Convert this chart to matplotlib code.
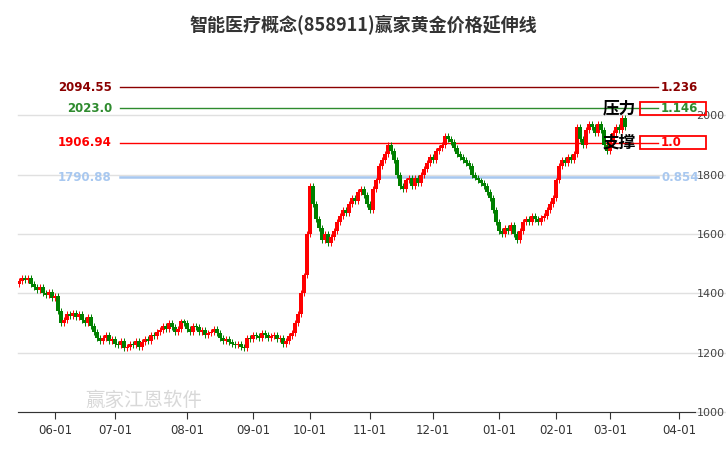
import matplotlib
matplotlib.use("Agg")
import matplotlib.pyplot as plt
from matplotlib.patches import Rectangle

plt.rcParams['font.family'] = ['Noto Sans CJK SC', 'DejaVu Sans']

closes = [1440,1450,1445,1450,
 1430,1420,1410,1420,1400,1395,1405,1385,1390,
 1340,1300,1310,1330,
 1325,1335,1320,1330,1310,1300,1320,1290,1270,1250,
 1240,1250,1260,1240,1245,1230,1225,1240,1215,1220,1230,1225,1240,1220,
 1235,1245,1240,1260,1255,1270,1275,1290,1280,1300,1285,1270,1280,1305,1300,
 1280,1270,1290,1285,1270,1275,1260,1265,1270,1280,1265,1250,1240,1245,1235,1230,1225,1230,1220,1215,
 1250,1245,1260,1255,1250,1265,1260,1250,1255,1260,1245,1250,1230,1240,1255,
 1265,1300,1330,1400,1460,1600,
 1760,
 1700,1650,1620,1580,1600,1570,1590,1610,
 1640,1660,1680,1670,1700,1720,1710,1740,1750,1730,1700,1680,
 1750,1780,1830,1850,1870,1900,1880,1850,
 1800,1760,1750,1780,1790,1760,1790,1770,
 1800,1820,1840,1860,1850,1880,1890,1900,1930,1920,1910,
 1890,1870,1860,1850,1840,1830,1800,1790,1780,1770,1760,
 1740,1720,1680,1640,1610,1600,1620,1610,1630,1600,
 1580,1610,1640,1650,1640,1660,1650,1640,1655,1660,1680,1700,1720,1780,1830,
 1850,1840,1860,1850,1870,1960,1920,1900,1950,1970,1960,1940,
 1970,1950,1900,1880,1910,1940,1960,1950,1990,1960]
opens = [1430] + closes[:-1]

tick_pos = [12, 32, 56, 78, 97, 117, 138, 160, 179, 197, 220]
tick_labels = ["06-01","07-01","08-01","09-01","10-01","11-01","12-01","01-01","02-01","03-01","04-01"]

levels = [2094.55, 2023.0, 1906.94, 1790.88]
level_texts = ["2094.55", "2023.0", "1906.94", "1790.88"]
ratios = ["1.236", "1.146", "1.0", "0.854"]
level_colors = ["#8b0000", "#2e8b2e", "#ff0000", "#a8c8f0"]

fig = plt.figure(figsize=(7.26, 4.5), dpi=100)
ax = fig.add_axes([18/726, 38/450, 677/726, 352/450])
ax.set_xlim(-0.3, 225.3)
ax.set_ylim(1000, 2186)

for y in [1000,1200,1400,1600,1800,2000]:
    ax.plot([-0.3, 236], [y, y], color="#e0e0e0", lw=1, zorder=0, clip_on=False)

for i, (o, c) in enumerate(zip(opens, closes)):
    col = "#ff0000" if c >= o else "#008000"
    hi = max(o, c) + 10
    lo = min(o, c) - 10
    ax.vlines(i, lo, hi, color=col, lw=0.7, zorder=2)
    h = max(abs(c - o), 3)
    ax.add_patch(Rectangle((i - 0.55, min(o, c)), 1.1, h, color=col, lw=0, zorder=3))

for lv, lt, r, col in zip(levels, level_texts, ratios, level_colors):
    lw = 1.8 if col == "#a8c8f0" else 1.0
    ax.plot([33.7, 213], [lv, lv], color=col, lw=lw, zorder=1)
    ax.text(31, lv, lt, color=col, ha="right", va="center",
            fontsize=8.5, fontweight="bold", family=["DejaVu Sans"])
    ax.text(214, lv, r, color=col, ha="left", va="center", fontsize=8.5, fontweight="bold",
            family=["DejaVu Sans"])

for lv in [2023.0, 1906.94]:
    ax.add_patch(Rectangle((207, lv - 22), 22, 44, fill=False, edgecolor="#ff0000", lw=1.3,
                           clip_on=False, zorder=5))
ax.text(205.5, 2023.0, "压力", ha="right", va="center", fontsize=12, fontweight="bold", zorder=6)
ax.text(205.5, 1906.94, "支撑", ha="right", va="center", fontsize=12, fontweight="bold", zorder=6)

ax.text(22, 1040, "赢家江恩软件", color="#d8d8d8", fontsize=14, ha="left", va="center", zorder=0)

for s in ["top", "left", "right"]:
    ax.spines[s].set_visible(False)
ax.spines["bottom"].set_color("#333333")
ax.yaxis.tick_right()
ax.set_yticks([1000,1200,1400,1600,1800,2000])
ax.tick_params(axis="y", length=0, labelsize=8, colors="#444444", pad=1)
ax.set_xticks(tick_pos)
ax.set_xticklabels(tick_labels)
ax.tick_params(axis="x", length=5, labelsize=8.5, colors="#333333")
for t in ax.get_xticklabels():
    t.set_family(["DejaVu Sans"])
for t in ax.get_yticklabels():
    t.set_family(["DejaVu Sans"])

fig.text(0.5, 0.945, "智能医疗概念(858911)赢家黄金价格延伸线", ha="center", va="center",
         fontsize=13, fontweight="bold", color="#333333")

fig.savefig("out.png", dpi=100)
